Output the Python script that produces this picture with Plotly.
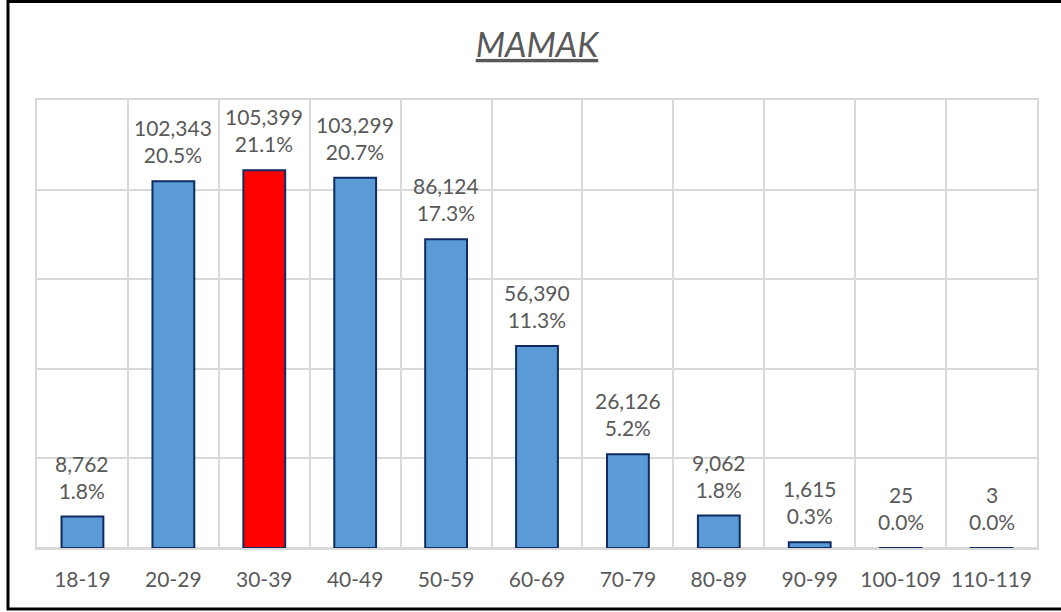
import plotly.graph_objects as go

categories = ["18-19", "20-29", "30-39", "40-49", "50-59", "60-69",
              "70-79", "80-89", "90-99", "100-109", "110-119"]
counts = [8762, 102343, 105399, 103299, 86124, 56390, 26126, 9062, 1615, 25, 3]
pct_labels = ["1.8%", "20.5%", "21.1%", "20.7%", "17.3%", "11.3%",
              "5.2%", "1.8%", "0.3%", "0.0%", "0.0%"]
highlight = "30-39"

BLUE = "#5B9BD5"
RED = "#FF0000"
EDGE = "#0F2B61"
GRAY_TXT = "#595959"
GRID = "#D9D9D9"
FONT = "Lato"

colors = [RED if c == highlight else BLUE for c in categories]

fig = go.Figure()
fig.add_trace(go.Bar(
    x=categories, y=counts,
    marker=dict(color=colors, line=dict(color=EDGE, width=2)),
    hoverinfo="x+y",
))

for c, v, p in zip(categories, counts, pct_labels):
    fig.add_annotation(
        x=c, y=v, xref="x", yref="y",
        text=f"{v:,}<br>{p}", showarrow=False,
        yanchor="bottom", yshift=12,
        font=dict(family=FONT, size=21, color=GRAY_TXT),
    )

fig.update_layout(
    width=1061, height=612,
    margin=dict(l=37, r=24, t=100, b=64),
    paper_bgcolor="white", plot_bgcolor="white",
    bargap=0.54,
    showlegend=False,
    title=dict(text="<i><u>MAMAK</u></i>", x=0.5, xref="paper",
               y=1 - 45 / 612, yref="container", yanchor="middle", xanchor="center",
               font=dict(family=FONT, size=34, color=GRAY_TXT)),
    xaxis=dict(
        type="category", tickson="boundaries", ticks="",
        showgrid=True, gridcolor=GRID, gridwidth=2,
        showline=True, linecolor=GRID, linewidth=2, mirror=True,
        tickfont=dict(family=FONT, size=21, color=GRAY_TXT),
        ticklabelstandoff=12,
    ),
    yaxis=dict(
        range=[0, 125000], dtick=25000, showticklabels=False,
        showgrid=True, gridcolor=GRID, gridwidth=2,
        zeroline=True, zerolinecolor=GRID, zerolinewidth=2,
        showline=True, linecolor=GRID, linewidth=2, mirror=True,
    ),
    shapes=[dict(type="rect", xref="paper", yref="paper",
                 x0=(8 - 37) / 1000, x1=(1064 - 37) / 1000,
                 y0=(548 - 609) / 448, y1=(548 - 1.5) / 448,
                 line=dict(color="black", width=3), fillcolor="rgba(0,0,0,0)",
                 layer="above")],
)

fig.write_html("out.html",
               config={"displayModeBar": False},
               post_script="document.body.style.margin='0';document.body.style.overflow='hidden';")
